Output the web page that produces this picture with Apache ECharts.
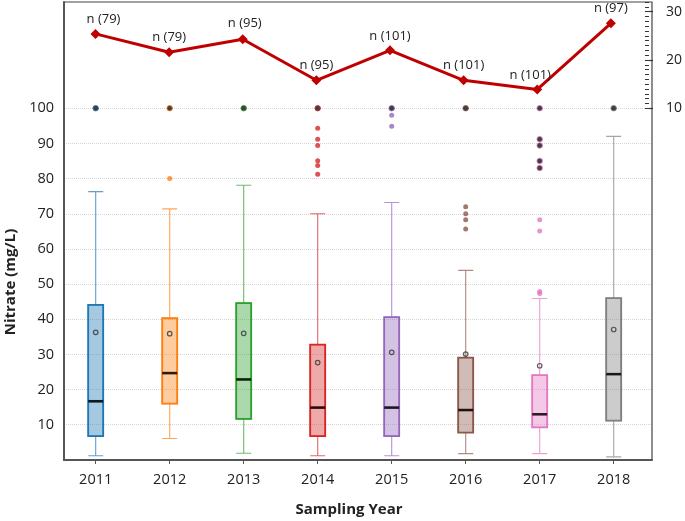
<!DOCTYPE html>
<html>
<head>
<meta charset="utf-8">
<script src="https://cdn.jsdelivr.net/npm/echarts@6/dist/echarts.min.js"></script>
<style>html,body{margin:0;padding:0;background:#fff;}#c{width:685px;height:521px;}</style>
</head>
<body>
<div id="c"></div>
<script>
// ---- data ----
const years = ['2011','2012','2013','2014','2015','2016','2017','2018'];
const whiskerLow  = [1.2, 6.1, 1.9, 1.2, 1.2, 1.8, 1.8, 0.9];
const q1          = [6.8, 16.0, 11.7, 6.8, 6.8, 7.8, 9.3, 11.2];
const median      = [16.7, 24.7, 22.9, 14.9, 14.9, 14.2, 13.0, 24.4];
const q3          = [44.1, 40.3, 44.6, 32.8, 40.6, 29.1, 24.1, 46.0];
const whiskerHigh = [76.3, 71.4, 78.1, 70.0, 73.2, 53.9, 45.9, 92.0];
const means       = [36.3, 35.9, 36.0, 27.7, 30.6, 30.1, 26.8, 37.1];
const outliers = [
  [],
  [80.0],
  [],
  [94.3, 91.2, 89.4, 85.1, 83.7, 81.2],
  [98.0, 94.9],
  [72.0, 70.0, 68.3, 65.7],
  [68.3, 65.1, 47.9, 47.3],
  []
];
const darkOutliers = [
  [100], [100], [100], [100], [100], [100],
  [100, 91.2, 89.4, 85.0, 83.0],
  [100]
];
const sampleN    = [79, 79, 95, 95, 101, 101, 101, 97];
const lineValues = [25.4, 21.6, 24.3, 15.8, 22.0, 15.8, 13.9, 27.6];
const leftTicks  = [10, 20, 30, 40, 50, 60, 70, 80, 90, 100];
const rightTicks = [10, 20, 30];

// ---- style ----
const palette = ['#1f77b4','#ff7f0e','#2ca02c','#d62728','#9467bd','#8c564b','#e377c2','#7f7f7f'];
function rgba(hex, a) {
  const n = parseInt(hex.slice(1), 16);
  return 'rgba(' + ((n >> 16) & 255) + ',' + ((n >> 8) & 255) + ',' + (n & 255) + ',' + a + ')';
}
const FONT = '"Open Sans", "Liberation Sans", sans-serif';
const labelOffsets = {0: [8, 0], 6: [-7, 0], 2: [2, -1]};

const chart = echarts.init(document.getElementById('c'), null, {renderer: 'canvas'});

const whiskerData = years.map((y, i) => ({
  value: [whiskerLow[i], q1[i], median[i], q3[i], whiskerHigh[i]],
  itemStyle: {color: 'rgba(0,0,0,0)', borderColor: rgba(palette[i], 0.7), borderWidth: 1.1}
}));
const boxData = years.map((y, i) => ({
  value: [q1[i], q1[i], median[i], q3[i], q3[i]],
  itemStyle: {color: rgba(palette[i], 0.4), borderColor: palette[i], borderWidth: 1.8}
}));
const medianData = years.map((y, i) => [i, median[i]]);
const meanData = years.map((y, i) => [i, means[i]]);
const outlierData = [];
outliers.forEach((arr, i) => arr.forEach(v => outlierData.push({value: [i, v], itemStyle: {color: palette[i]}})));
const darkData = [];
darkOutliers.forEach((arr, i) => arr.forEach(v => darkData.push({value: [i, v], itemStyle: {color: '#111', borderColor: palette[i], borderWidth: 1}})));
const lineData = lineValues.map((v, i) => {
  const d = {value: v};
  if (labelOffsets[i]) d.label = {offset: labelOffsets[i]};
  return d;
});

const option = {
  animation: false,
  backgroundColor: '#fff',
  grid: [
    // 0: frame
    {left: 64, right: 33, top: 2, height: 458, show: true, borderColor: '#444', borderWidth: 1.2, backgroundColor: 'transparent'},
    // 1: boxes (category positioning)
    {left: 58.7, width: 592, top: 2, height: 458},
    // 2: line (right axis)
    {left: 58.7, width: 592, top: 2, height: 106.3},
    // 3: gridlines + left labels
    {left: 64, right: 33, top: 108.3, height: 316.4}
  ],
  xAxis: [
    {gridIndex: 0, type: 'value', min: 0, max: 1, axisLine: {show: true, onZero: false, lineStyle: {color: '#555', width: 2}}, axisTick: {show: false}, axisLabel: {show: false}, splitLine: {show: false}},
    {gridIndex: 1, type: 'category', data: years, boundaryGap: true,
      axisLine: {show: false}, axisTick: {show: true, alignWithLabel: true, length: 4, lineStyle: {color: '#555'}},
      axisLabel: {color: '#222', fontSize: 14.5, fontFamily: FONT, margin: 12}, splitLine: {show: false}},
    {gridIndex: 2, type: 'category', data: years, boundaryGap: true, show: false},
    {gridIndex: 3, type: 'value', min: 0, max: 1, show: false},
    {gridIndex: 1, type: 'category', data: years, boundaryGap: true, show: false}
  ],
  yAxis: [
    {gridIndex: 0, type: 'value', min: 0, max: 1, axisLine: {show: true, onZero: false, lineStyle: {color: '#555', width: 2}}, axisTick: {show: false}, axisLabel: {show: false}, splitLine: {show: false}},
    {gridIndex: 1, type: 'value', min: 0, max: 130.2, show: false},
    {gridIndex: 2, type: 'value', position: 'right', offset: 1.3, min: 10, max: 32,
      axisLine: {show: false},
      axisTick: {show: true, inside: false, length: 4, customValues: rightTicks, lineStyle: {color: '#333', width: 1.2}},
      axisLabel: {show: true, customValues: rightTicks, margin: 17, color: '#222', fontSize: 14, fontFamily: FONT},
      splitLine: {show: false}},
    {gridIndex: 2, type: 'value', position: 'right', offset: 1.3, min: 10, max: 32, interval: 1,
      axisLine: {show: false},
      axisTick: {show: true, inside: true, length: 4, lineStyle: {color: '#333', width: 1}},
      axisLabel: {show: false}, splitLine: {show: false}},
    {gridIndex: 3, type: 'value', min: 10, max: 100, interval: 10,
      axisLine: {show: false}, axisTick: {show: false},
      axisLabel: {color: '#222', fontSize: 14.5, fontFamily: FONT, margin: 10},
      splitLine: {show: true, lineStyle: {color: '#d6d6d6', type: 'dotted', width: 1}}}
  ],
  series: [
    {type: 'boxplot', xAxisIndex: 1, yAxisIndex: 1, boxWidth: [15, 15], data: whiskerData, z: 2},
    {type: 'boxplot', xAxisIndex: 4, yAxisIndex: 1, boxWidth: [15, 15], data: boxData, z: 3},
    {type: 'scatter', xAxisIndex: 1, yAxisIndex: 1, symbol: 'rect', symbolSize: [15, 2.6], data: medianData,
      itemStyle: {color: '#000'}, z: 4},
    {type: 'scatter', xAxisIndex: 1, yAxisIndex: 1, symbol: 'circle', symbolSize: 4.5, data: meanData,
      itemStyle: {color: 'rgba(0,0,0,0)', borderColor: '#333', borderWidth: 1.2}, z: 5},
    {type: 'scatter', xAxisIndex: 1, yAxisIndex: 1, symbol: 'circle', symbolSize: 5, data: outlierData, z: 5},
    {type: 'scatter', xAxisIndex: 1, yAxisIndex: 1, symbol: 'circle', symbolSize: 5.5, data: darkData, z: 6},
    {type: 'line', xAxisIndex: 2, yAxisIndex: 2, data: lineData, clip: false,
      symbol: 'diamond', symbolSize: 10,
      lineStyle: {color: '#C00000', width: 3},
      itemStyle: {color: '#C00000'},
      label: {show: true, position: 'top', distance: 3, fontSize: 13, fontFamily: FONT, color: '#222',
        formatter: p => 'n (' + sampleN[p.dataIndex] + ')'},
      z: 10}
  ],
  graphic: [
    {type: 'text', x: 11, y: 282, rotation: Math.PI / 2,
      style: {text: 'Nitrate (mg/L)', font: 'bold 15px "Open Sans", sans-serif', fill: '#222', align: 'center', verticalAlign: 'middle'}},
    {type: 'text', x: 349, y: 510,
      style: {text: 'Sampling Year', font: 'bold 15px "Open Sans", sans-serif', fill: '#222', align: 'center', verticalAlign: 'middle'}}
  ]
};
chart.setOption(option);
</script>
</body>
</html>
